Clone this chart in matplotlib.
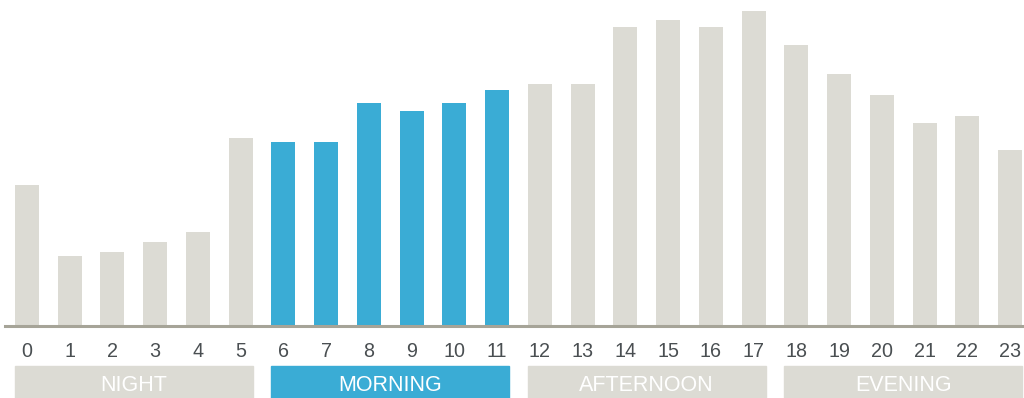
import matplotlib
matplotlib.use("Agg")
import matplotlib.pyplot as plt
from matplotlib.patches import Rectangle
from matplotlib.transforms import blended_transform_factory

# Hourly activity
hours = list(range(24))
values = [141, 70, 74, 84, 94, 188, 184, 184, 223, 215, 223, 236,
          242, 242, 299, 306, 299, 315, 281, 252, 231, 203, 210, 176]

# Day periods: (label, first hour, last hour)
period_names = ["NIGHT", "MORNING", "AFTERNOON", "EVENING"]
period_start = [0, 6, 12, 18]
period_end = [5, 11, 17, 23]
highlight = "MORNING"

GRAY = "#dcdbd4"
BLUE = "#3aacd5"
AXIS = "#a6a498"
TEXT = "#4a4f52"

plt.rcParams["font.family"] = ["Liberation Sans", "DejaVu Sans"]

fig = plt.figure(figsize=(10.24, 3.98), dpi=100)
ax = fig.add_axes([0, 72 / 398, 1, 326 / 398])

step = 42.74
width = 24 / step
x0 = 27 / step
ax.set_xlim(-x0, (1024 - 27) / step)
ax.set_ylim(0, 326)

hl_start = period_start[period_names.index(highlight)]
hl_end = period_end[period_names.index(highlight)]
colors = [BLUE if hl_start <= h <= hl_end else GRAY for h in hours]
ax.bar(hours, values, width=width, color=colors, zorder=2)

ax.axhline(0, xmin=5 / 1024, xmax=1, color=AXIS, lw=2.2, clip_on=False, zorder=3)

for s in ax.spines.values():
    s.set_visible(False)
ax.set_yticks([])
ax.set_xticks(hours)
ax.set_xticklabels([str(h) for h in hours], fontsize=14.2, color=TEXT)
ax.tick_params(axis="x", length=0, pad=11.5)

trans = blended_transform_factory(ax.transData, fig.transFigure)
box_bottom = 0
box_height = 32 / 398
for name, a, b in zip(period_names, period_start, period_end):
    c = BLUE if name == highlight else GRAY
    left = a - width / 2
    right = b + width / 2
    ax.add_patch(Rectangle((left, box_bottom), right - left, box_height,
                           transform=trans, color=c, clip_on=False, zorder=1))
    ax.text((left + right) / 2, (398 - 391) / 398, name,
            transform=trans, ha="center", va="baseline", fontsize=15.5,
            color="white")

fig.savefig("out.png", dpi=100)
